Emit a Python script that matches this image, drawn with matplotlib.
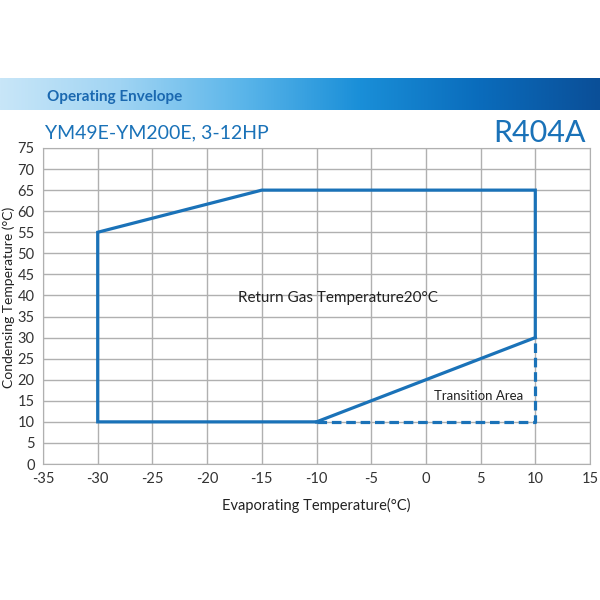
import matplotlib
matplotlib.use("Agg")
import matplotlib.pyplot as plt
import numpy as np
from matplotlib.colors import LinearSegmentedColormap

# envelope corners (evaporating, condensing)
envelope_x = [-10, -30, -30, -15, 10, 10]
envelope_y = [10, 10, 55, 65, 65, 30]
slope_x = [-10, 10]
slope_y = [10, 30]
transition_x = [-10, 10, 10]
transition_y = [10, 10, 30]

x_ticks = list(range(-35, 20, 5))
y_ticks = list(range(0, 80, 5))

BLUE = "#1a72b8"
plt.rcParams["font.family"] = ["Lato", "DejaVu Sans"]
plt.rcParams["axes.unicode_minus"] = False

fig = plt.figure(figsize=(6, 6), dpi=100)

# banner gradient
band = fig.add_axes([0, 1 - 110 / 600, 1, 32 / 600])
cmap = LinearSegmentedColormap.from_list(
    "band", ["#c8e6f8", "#a0d4f3", "#5cb6ea", "#1a8fd8", "#0a6cbc", "#0a4f98"])
band.imshow(np.linspace(0, 1, 256)[None, :], aspect="auto", cmap=cmap,
            extent=[0, 1, 0, 1])
band.axis("off")
fig.text(47 / 600, 1 - 97 / 600, "Operating Envelope", color="#1a68b0",
         fontsize=11, fontweight="bold", va="center")

fig.text(45 / 600, 1 - 133 / 600, "YM49E-YM200E, 3-12HP", color=BLUE,
         fontsize=14, va="center")
fig.text(586 / 600, 1 - 133 / 600, "R404A", color=BLUE,
         fontsize=22, va="center", ha="right")

ax = fig.add_axes([43 / 600, 1 - 464 / 600, 547 / 600, 316 / 600])
ax.set_xlim(-35, 15)
ax.set_ylim(0, 75)
ax.set_xticks(x_ticks)
ax.set_yticks(y_ticks)
ax.grid(True, color="#b0b0b0", linewidth=1)
ax.set_axisbelow(True)
for s in ax.spines.values():
    s.set_color("#b0b0b0")
ax.tick_params(length=0, labelsize=10.5, colors="#333333", pad=6)

ax.plot(envelope_x, envelope_y, color=BLUE, linewidth=2.3, solid_joinstyle="miter")
ax.plot(slope_x, slope_y, color=BLUE, linewidth=2.3)
ax.plot(transition_x, transition_y, color=BLUE, linewidth=2.3,
        linestyle=(0, (3, 1.5)))

ax.text(-8, 39.5, "Return Gas Temperature20°C", fontsize=11,
        color="#222222", ha="center", va="center")
ax.text(4.8, 16.2, "Transition Area", fontsize=9.5,
        color="#222222", ha="center", va="center")

ax.set_xlabel("Evaporating Temperature(°C)", fontsize=10.5, color="#222222",
              labelpad=8)
fig.text(9 / 600, 1 - 297 / 600, "Condensing Temperature (°C)", fontsize=10,
         color="#222222", rotation=90, ha="center", va="center")

fig.savefig("out.png", dpi=100)
